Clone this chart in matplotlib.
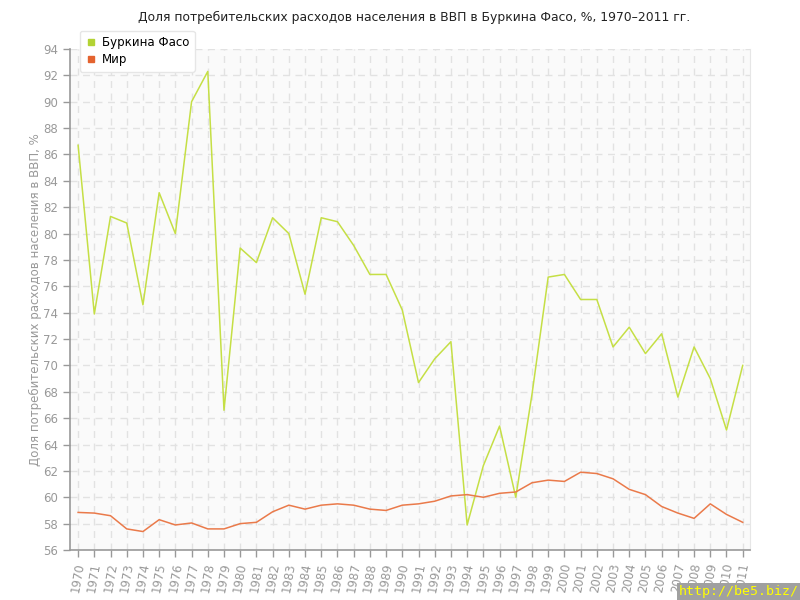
import matplotlib
matplotlib.use("Agg")
import matplotlib.pyplot as plt
from matplotlib.lines import Line2D

years = list(range(1970, 2012))
burkina = [86.7, 73.9, 81.3, 80.8, 74.6, 83.1, 80.0, 90.0, 92.3, 66.6,
           78.9, 77.8, 81.2, 80.0, 75.4, 81.2, 80.9, 79.1, 76.9, 76.9,
           74.2, 68.7, 70.5, 71.8, 57.9, 62.4, 65.4, 60.0, 67.8, 76.7,
           76.9, 75.0, 75.0, 71.4, 72.9, 70.9, 72.4, 67.6, 71.4, 69.0,
           65.1, 70.0]
world = [58.85, 58.8, 58.6, 57.6, 57.4, 58.3, 57.9, 58.05, 57.6, 57.6,
         58.0, 58.1, 58.9, 59.4, 59.1, 59.4, 59.5, 59.4, 59.1, 59.0,
         59.4, 59.5, 59.7, 60.1, 60.2, 60.0, 60.3, 60.4, 61.1, 61.3,
         61.2, 61.9, 61.8, 61.4, 60.6, 60.2, 59.3, 58.8, 58.4, 59.5,
         58.7, 58.1]
series_names = ["Буркина Фасо", "Мир"]
yticks = list(range(56, 95, 2))

title = "Доля потребительских расходов населения в ВВП в Буркина Фасо, %, 1970–2011 гг."
ylabel = "Доля потребительских расходов населения в ВВП, %"

c_bf = "#c5df45"
c_w = "#ea7a4a"
c_bf_leg = "#b3d334"
c_w_leg = "#e4632f"

fig = plt.figure(figsize=(8, 6), dpi=100)
ax = fig.add_axes([70/800, 50/600, 680/800, 501/600])
ax.set_facecolor("#fafafa")

ax.plot(years, burkina, color=c_bf, lw=1.1, zorder=3)
ax.plot(years, world, color=c_w, lw=1.1, zorder=3)

ax.set_xlim(1969.5, 2011.45)
ax.set_ylim(56, 94)
ax.set_xticks(years)
ax.set_xticklabels([str(y) for y in years], rotation=80, fontsize=8.5, color="#999999")
ax.set_yticks(yticks)
ax.set_yticklabels([str(v) for v in yticks], fontsize=8.5, color="#999999")
ax.tick_params(axis="both", color="#999999", length=5, width=1)
ax.grid(True, color="#e2e2e2", linestyle=(0, (5, 4)), lw=1)
ax.set_axisbelow(True)
for s in ["left", "bottom"]:
    ax.spines[s].set_color("#999999")
    ax.spines[s].set_linewidth(1.2)
ax.spines["right"].set_color("#e6e6e6")
ax.spines["top"].set_visible(False)

ax.set_ylabel(ylabel, fontsize=8.5, color="#999999", labelpad=1)
fig.text(414/800, 1 - 17/600, title, ha="center", va="center", fontsize=8.9, color="#222222")

handles = [Line2D([], [], marker="s", ls="none", color=c_bf_leg, markersize=5),
           Line2D([], [], marker="s", ls="none", color=c_w_leg, markersize=5)]
leg = fig.legend(handles, series_names, loc="upper left",
                 bbox_to_anchor=(80/800, 1 - 31/600), fontsize=8.5,
                 frameon=True, fancybox=True, shadow=False,
                 handletextpad=0.4, borderpad=0.45, labelspacing=0.35,
                 handlelength=1.0, borderaxespad=0)
leg.get_frame().set_edgecolor("#e6e6e6")
leg.get_frame().set_facecolor("white")
leg.get_frame().set_alpha(1)

fig.text(0.999, 0.003, "http://be5.biz/", ha="right", va="bottom",
         fontsize=9.5, color="#ffff00", family="DejaVu Sans Mono",
         bbox=dict(facecolor="#a0a0a0", edgecolor="none", pad=1.5))

fig.savefig("out.png", dpi=100)
